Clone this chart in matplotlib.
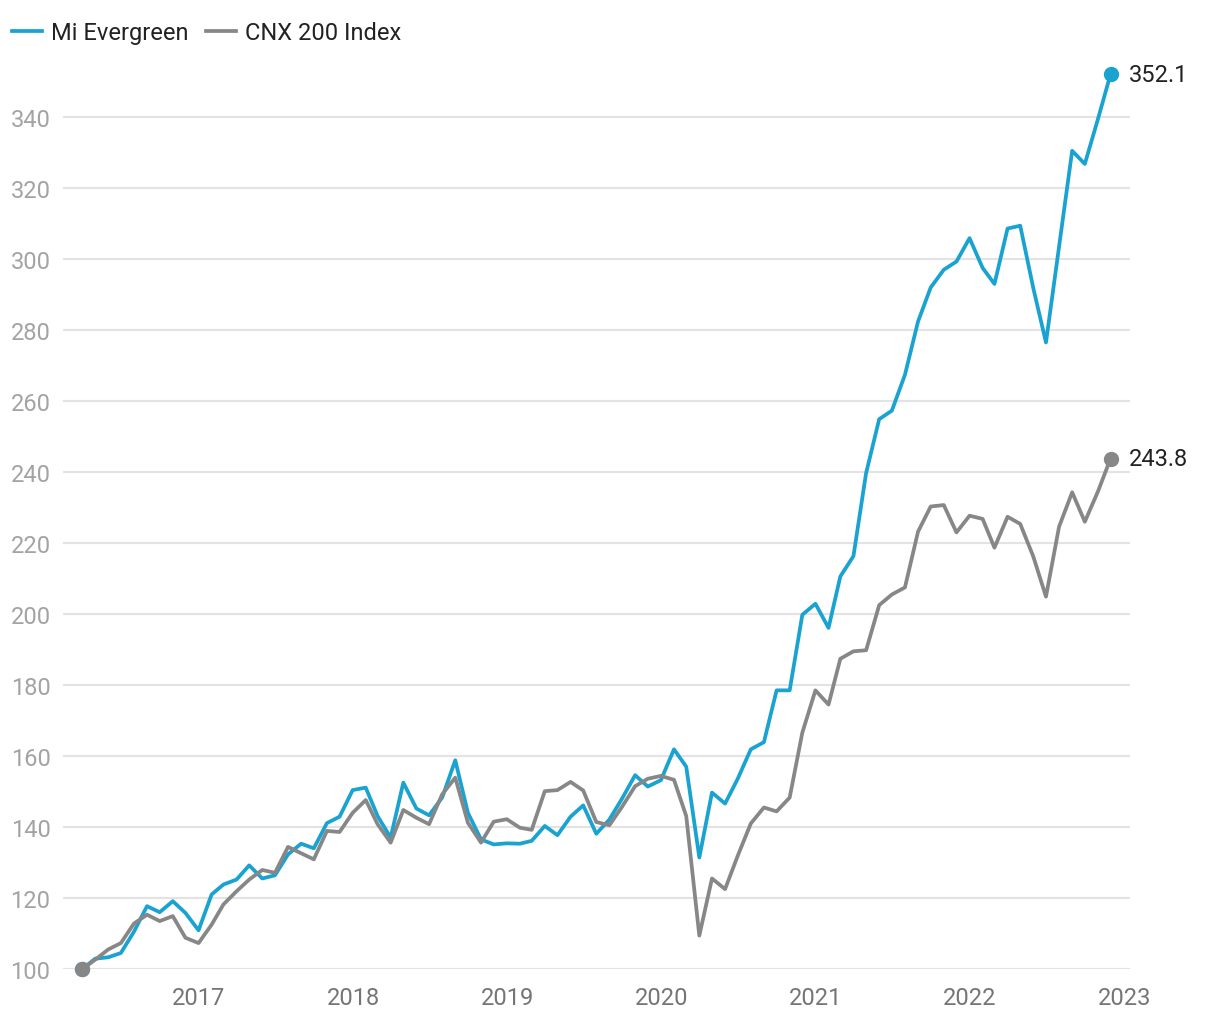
import numpy as np
import pandas as pd
import matplotlib
matplotlib.use('Agg')
import matplotlib.pyplot as plt
import matplotlib.dates as mdates

plt.rcParams['font.family'] = ['Roboto', 'DejaVu Sans']

# month-end values, Mar 2016 .. Nov 2022
dates = pd.date_range('2016-03-31', periods=81, freq='ME')

mi_evergreen = [
    100.0, 102.9, 103.3, 104.5, 110.5, 117.7, 116.0, 119.1, 115.8, 110.9,
    121.0, 123.8, 125.2, 129.2, 125.5, 126.4, 132.3, 135.3, 134.0, 141.1,
    142.9, 150.4, 151.1, 143.1, 137.0, 152.5, 145.2, 143.3, 148.3, 158.8,
    144.0, 136.5, 135.1, 135.4, 135.3, 136.1, 140.3, 137.7, 142.9, 146.1,
    138.1, 142.1, 148.0, 154.6, 151.4, 153.2, 161.9, 157.0, 131.4, 149.7,
    146.6, 153.6, 161.9, 163.9, 178.5, 178.5, 199.8, 202.9, 196.1, 210.6,
    216.3, 239.7, 254.9, 257.3, 267.4, 282.4, 292.0, 297.0, 299.3, 305.9,
    297.5, 293.0, 308.6, 309.4, 291.8, 276.5, 303.5, 330.5, 326.8, 339.4,
    352.1,
]

cnx200 = [
    100.0, 102.6, 105.5, 107.3, 112.8, 115.3, 113.5, 114.9, 108.8, 107.3,
    112.5, 118.2, 121.9, 125.2, 127.9, 127.1, 134.4, 132.6, 130.9, 138.9,
    138.6, 144.0, 147.6, 140.8, 135.6, 144.8, 142.6, 140.8, 149.2, 153.9,
    141.2, 135.6, 141.5, 142.2, 139.8, 139.2, 150.1, 150.4, 152.7, 150.3,
    141.4, 140.5, 145.7, 151.5, 153.6, 154.4, 153.3, 143.1, 109.4, 125.5,
    122.5, 131.9, 141.0, 145.5, 144.4, 148.3, 166.6, 178.5, 174.5, 187.4,
    189.5, 189.8, 202.5, 205.5, 207.5, 223.2, 230.3, 230.7, 223.0, 227.7,
    226.8, 218.7, 227.4, 225.4, 216.2, 204.9, 224.6, 234.3, 226.0, 234.5,
    243.8,
]

yticks = [100, 120, 140, 160, 180, 200, 220, 240, 260, 280, 300, 320, 340]

blue = '#1aa3d1'
grey = '#878787'
fs = 17

fig = plt.figure(figsize=(12.2, 10.2), dpi=100)
ax = fig.add_axes([63 / 1220, 50 / 1020, (1130 - 63) / 1220, 930 / 1020])

ax.plot(dates, mi_evergreen, color=blue, lw=2.7, label='Mi Evergreen', zorder=3)
ax.plot(dates, cnx200, color=grey, lw=2.7, label='CNX 200 Index', zorder=3)

for series, c in [(mi_evergreen, blue), (cnx200, grey)]:
    ax.plot([dates[0], dates[-1]], [series[0], series[-1]], 'o', color=c,
            ms=10, clip_on=False, zorder=4)
    ax.annotate(f'{series[-1]:.1f}', (dates[-1], series[-1]),
                xytext=(13, 0), textcoords='offset points',
                va='center', ha='left', fontsize=fs, color='#222222')

ax.set_ylim(100, 362)
ax.set_xlim(pd.Timestamp('2016-02-14'), pd.Timestamp('2023-01-15'))
ax.set_yticks(yticks)
ax.xaxis.set_major_locator(mdates.YearLocator())
ax.xaxis.set_major_formatter(mdates.DateFormatter('%Y'))

ax.grid(axis='y', color='#e3e3e3', lw=1.5, zorder=0)
ax.grid(axis='x', visible=False)
for s in ax.spines.values():
    s.set_visible(False)
ax.tick_params(axis='both', length=0, labelsize=fs)
ax.tick_params(axis='y', pad=9, labelcolor='#a3a3a3')
ax.tick_params(axis='x', pad=12, labelcolor='#757575')

ax.legend(loc='upper left', bbox_to_anchor=(0.002, 0.9875), bbox_transform=fig.transFigure,
          ncol=2, frameon=False, fontsize=fs, handlelength=1.27,
          handletextpad=0.38, columnspacing=0.75, borderaxespad=0,
          labelcolor='#222222')

fig.savefig('out.png', dpi=100)
